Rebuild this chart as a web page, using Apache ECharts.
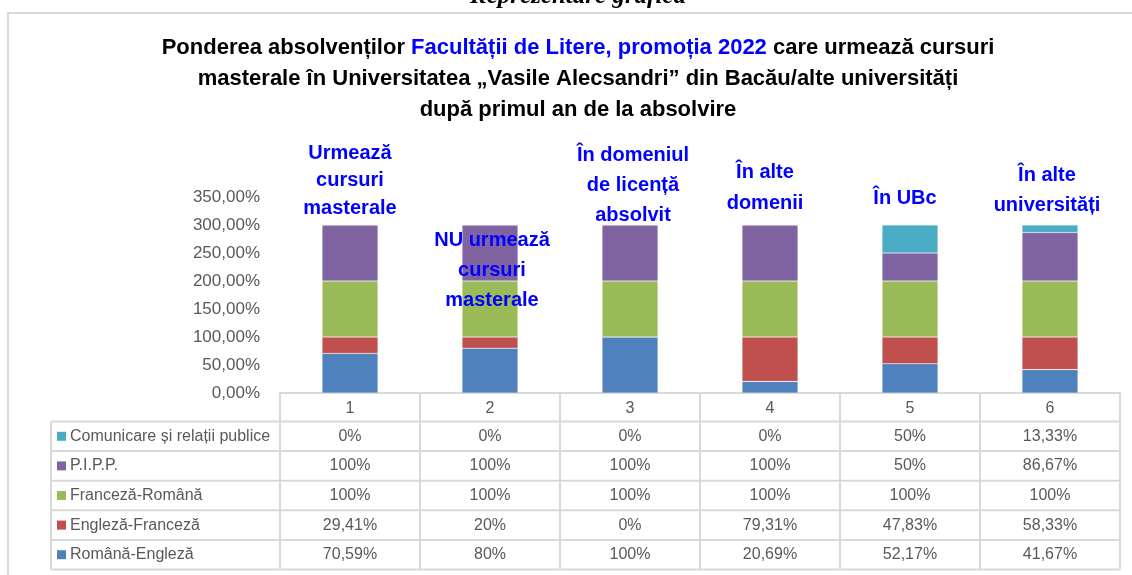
<!DOCTYPE html>
<html>
<head>
<meta charset="utf-8">
<script src="https://cdn.jsdelivr.net/npm/echarts@6/dist/echarts.min.js"></script>
<style>
  html, body { margin: 0; padding: 0; background: #ffffff; }
  #chart { width: 1132px; height: 575px; }
</style>
</head>
<body>
<div id="chart"></div>
<script>
// categories (column numbers of the table)
var categories = ['1', '2', '3', '4', '5', '6'];

// series values, in percent
var romanaEngleza   = [70.59, 80, 100, 20.69, 52.17, 41.67];
var englezaFranceza = [29.41, 20, 0, 79.31, 47.83, 58.33];
var francezaRomana  = [100, 100, 100, 100, 100, 100];
var pipp            = [100, 100, 100, 100, 50, 86.67];
var comunicare      = [0, 0, 0, 0, 50, 13.33];

var seriesNames = ['Română-Engleză', 'Engleză-Franceză', 'Franceză-Română', 'P.I.P.P.', 'Comunicare și relații publice'];
var seriesData = [romanaEngleza, englezaFranceza, francezaRomana, pipp, comunicare];
var colors = ['#4F81BD', '#C0504D', '#9BBB59', '#8064A2', '#4BACC6'];

// y axis ticks
var yMin = 0, yMax = 350, yStep = 50;

// blue notes above the bars
var notes = [
  ['Urmează', 'cursuri', 'masterale'],
  ['NU urmează', 'cursuri', 'masterale'],
  ['În domeniul', 'de licență', 'absolvit'],
  ['În alte', 'domenii'],
  ['În UBc'],
  ['În alte', 'universități']
];
// where the notes sit: [center x, first line y, line height]
var notePos = [[350, 153, 27.5], [492, 240, 30], [633, 155, 30], [765, 172, 31], [905, 198, 30], [1047, 175, 30]];

function pct(v) {
  if (Math.round(v) === v) return v + '%';
  return v.toFixed(2).replace('.', ',') + '%';
}

var chart = echarts.init(document.getElementById('chart'), null, { renderer: 'canvas' });

var series = [];
for (var s = 0; s < seriesData.length; s++) {
  series.push({
    name: seriesNames[s],
    type: 'bar',
    stack: 'total',
    barWidth: 56,
    data: seriesData[s],
    itemStyle: { color: colors[s], borderColor: 'rgba(255,255,255,0.35)', borderWidth: 0.6 }
  });
}

chart.setOption({
  animation: false,
  grid: { left: 280, right: 12, top: 197, bottom: 182 },
  xAxis: {
    type: 'category',
    data: categories,
    axisLine: { show: true, lineStyle: { color: '#d9d9d9', width: 2 } },
    axisTick: { show: false },
    axisLabel: { color: '#595959', fontSize: 16, margin: 8, fontFamily: 'Liberation Sans' }
  },
  yAxis: {
    type: 'value',
    min: yMin, max: yMax, interval: yStep,
    axisLine: { show: false },
    axisTick: { show: false },
    splitLine: { show: false },
    axisLabel: {
      color: '#595959', fontSize: 17, margin: 20, fontFamily: 'Liberation Sans',
      formatter: function (v) { return v.toFixed(2).replace('.', ',') + '%'; }
    }
  },
  series: series
});

// table under the plot, title and notes
var g = [];
var lineColor = '#d9d9d9';
var font = '16px "Liberation Sans"';

// outer frame of the chart
g.push({ type: 'rect', shape: { x: 8, y: 13, width: 1140, height: 600 }, style: { fill: 'none', stroke: '#d9d9d9', lineWidth: 2 }, silent: true });

// caption cut by the top edge
g.push({ type: 'text', style: { text: 'Reprezentare grafică', x: 578, y: -3, textAlign: 'center', textVerticalAlign: 'middle', font: 'italic bold 25px "Liberation Serif"', fill: '#000' } });

// title
var tFont = 'bold 22px "Liberation Sans"';
g.push({ type: 'text', style: {
  text: '{k|Ponderea absolvenților }{b|Facultății de Litere, promoția 2022}{k| care urmează cursuri}',
  x: 578, y: 48, textAlign: 'center', textVerticalAlign: 'middle',
  rich: { k: { font: tFont, fill: '#000000' }, b: { font: tFont, fill: '#0000FF' } }
} });
g.push({ type: 'text', style: { text: 'masterale în Universitatea „Vasile Alecsandri” din Bacău/alte universități', x: 578, y: 79, textAlign: 'center', textVerticalAlign: 'middle', font: tFont, fill: '#000' } });
g.push({ type: 'text', style: { text: 'după primul an de la absolvire', x: 578, y: 110, textAlign: 'center', textVerticalAlign: 'middle', font: tFont, fill: '#000' } });

// notes
for (var n = 0; n < notes.length; n++) {
  for (var l = 0; l < notes[n].length; l++) {
    g.push({ type: 'text', z: 100, style: {
      text: notes[n][l], x: notePos[n][0], y: notePos[n][1] + l * notePos[n][2],
      textAlign: 'center', textVerticalAlign: 'middle', font: 'bold 20px "Liberation Sans"', fill: '#0000FF'
    } });
  }
}

// column edges from the x axis
var half = (chart.convertToPixel({ xAxisIndex: 0 }, 1) - chart.convertToPixel({ xAxisIndex: 0 }, 0)) / 2;
var edges = [];
for (var c = 0; c < categories.length; c++) edges.push(chart.convertToPixel({ xAxisIndex: 0 }, c) - half);
edges.push(chart.convertToPixel({ xAxisIndex: 0 }, categories.length - 1) + half);

var headTop = chart.convertToPixel({ yAxisIndex: 0 }, 0);
var rowH = 29.6;
var bodyTop = headTop + 28.5;
var legLeft = 51;
var nRows = seriesNames.length;
var bodyBottom = bodyTop + nRows * rowH;

// vertical lines
for (var e = 0; e < edges.length; e++) {
  g.push({ type: 'line', shape: { x1: edges[e], y1: headTop, x2: edges[e], y2: bodyBottom }, style: { stroke: lineColor, lineWidth: 2 } });
}
g.push({ type: 'line', shape: { x1: legLeft, y1: bodyTop, x2: legLeft, y2: bodyBottom }, style: { stroke: lineColor, lineWidth: 2 } });
// horizontal lines
for (var r = 0; r <= nRows; r++) {
  var yy = bodyTop + r * rowH;
  g.push({ type: 'line', shape: { x1: legLeft, y1: yy, x2: edges[edges.length - 1], y2: yy }, style: { stroke: lineColor, lineWidth: 2 } });
}

// rows, top to bottom in reverse stack order
for (var r2 = 0; r2 < nRows; r2++) {
  var si = nRows - 1 - r2;
  var cy = bodyTop + r2 * rowH + rowH / 2;
  g.push({ type: 'rect', shape: { x: 57, y: cy - 4.5, width: 9, height: 9 }, style: { fill: colors[si] } });
  g.push({ type: 'text', style: { text: seriesNames[si], x: 70, y: cy, textVerticalAlign: 'middle', font: font, fill: '#595959' } });
  for (var c2 = 0; c2 < categories.length; c2++) {
    g.push({ type: 'text', style: {
      text: pct(seriesData[si][c2]), x: (edges[c2] + edges[c2 + 1]) / 2, y: cy,
      textAlign: 'center', textVerticalAlign: 'middle', font: font, fill: '#595959'
    } });
  }
}

chart.setOption({ graphic: g });
</script>
</body>
</html>
